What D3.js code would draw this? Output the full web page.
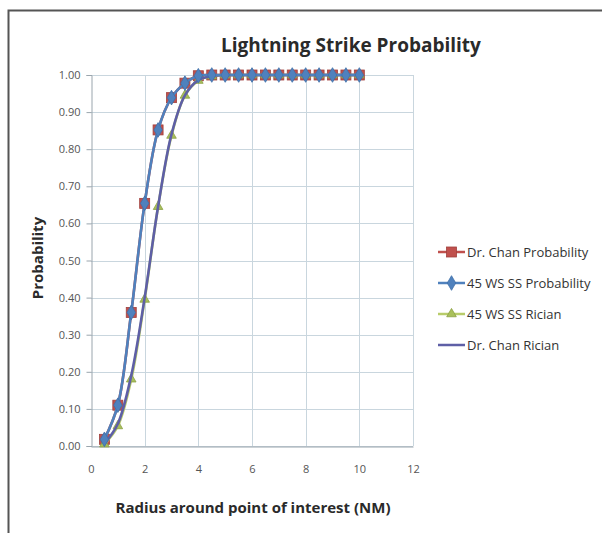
<!DOCTYPE html>
<html>
<head>
<meta charset="utf-8">
<script src="https://cdn.jsdelivr.net/npm/d3@7"></script>
<style>
  body { margin: 0; background: #fff; }
  svg { display: block; font-family: "Open Sans", sans-serif; }
</style>
</head>
<body>
<svg width="602" height="533"></svg>
<script>
// radius (NM) for every point
var radius = [0.5, 1, 1.5, 2, 2.5, 3, 3.5, 4, 4.5, 5, 5.5, 6, 6.5, 7, 7.5, 8, 8.5, 9, 9.5, 10];

var chanProb   = [0.018, 0.11, 0.36, 0.654, 0.852, 0.939, 0.978, 0.998, 1, 1, 1, 1, 1, 1, 1, 1, 1, 1, 1, 1];
var wsProb     = [0.018, 0.11, 0.36, 0.654, 0.852, 0.939, 0.978, 0.998, 1, 1, 1, 1, 1, 1, 1, 1, 1, 1, 1, 1];
var wsRician   = [0.005, 0.054, 0.18, 0.395, 0.645, 0.837, 0.945, 0.985, 0.997, 1, 1, 1, 1, 1, 1, 1, 1, 1, 1, 1];
var chanRician = [0.006, 0.06, 0.19, 0.40, 0.645, 0.84, 0.945, 0.986, 0.997, 1, 1, 1, 1, 1, 1, 1, 1, 1, 1, 1];

var xTicks = [0, 2, 4, 6, 8, 10, 12];
var yTicks = [0, 0.1, 0.2, 0.3, 0.4, 0.5, 0.6, 0.7, 0.8, 0.9, 1.0];

var series = [
  { name: "Dr. Chan Probability", values: chanProb, color: "#C0504D", marker: "square" },
  { name: "45 WS SS Probability", values: wsProb, color: "#4F81BD", marker: "diamond" },
  { name: "45 WS SS Rician", values: wsRician, color: "#B8CC6A", marker: "triangle" },
  { name: "Dr. Chan Rician", values: chanRician, color: "#5E5FA6", marker: "none" }
];

var svg = d3.select("svg");

// outer chart frame (only left and top visible in the reference)
svg.append("path")
  .attr("d", "M8.5,533 V10.5 H602")
  .attr("fill", "none")
  .attr("stroke", "#555")
  .attr("stroke-width", 2);

var x = d3.scaleLinear().domain([0, 12]).range([91, 413]);
var y = d3.scaleLinear().domain([0, 1]).range([446, 75]);

// gridlines
svg.append("g").selectAll("line").data(yTicks).enter().append("line")
  .attr("x1", x(0)).attr("x2", x(12))
  .attr("y1", function(d) { return Math.round(y(d)) + 0.5; })
  .attr("y2", function(d) { return Math.round(y(d)) + 0.5; })
  .attr("stroke", "#c9d6de");

svg.append("g").selectAll("line").data(xTicks.slice(1)).enter().append("line")
  .attr("y1", y(0)).attr("y2", y(1))
  .attr("x1", function(d) { return Math.round(x(d)) + 0.5; })
  .attr("x2", function(d) { return Math.round(x(d)) + 0.5; })
  .attr("stroke", "#c9d6de");

// axes
var yAxis = d3.axisLeft(y).tickValues(yTicks).tickFormat(d3.format(".2f")).tickSize(5).tickPadding(6);
var xAxis = d3.axisBottom(x).tickValues(xTicks).tickSize(0).tickPadding(19);

var gy = svg.append("g").attr("transform", "translate(91.5,0)").call(yAxis);
var gx = svg.append("g").attr("transform", "translate(0,446.5)").call(xAxis);

[gx, gy].forEach(function(g) {
  g.select(".domain").attr("stroke", "#9aa5ad");
  g.selectAll(".tick line").attr("stroke", "#9aa5ad");
  g.selectAll("text").attr("fill", "#555").style("font-size", "11px")
    .style("font-family", "'Open Sans', sans-serif");
});

// lines
var line = d3.line()
  .x(function(d, i) { return x(radius[i]); })
  .y(function(d) { return y(d); })
  .curve(d3.curveCatmullRom.alpha(0.5));

function drawMarker(g, s, cx, cy) {
  if (s.marker === "square") {
    g.append("rect").attr("x", cx - 5).attr("y", cy - 5).attr("width", 10).attr("height", 10)
      .attr("fill", s.color).attr("stroke", "#a0403d").attr("stroke-width", 0.8);
  } else if (s.marker === "diamond") {
    g.append("path").attr("d", d3.symbol().type(d3.symbolDiamond).size(62)())
      .attr("transform", "translate(" + cx + "," + cy + ")")
      .attr("fill", s.color).attr("stroke", "#3f6ea8").attr("stroke-width", 0.8);
  } else if (s.marker === "triangle") {
    g.append("path").attr("d", d3.symbol().type(d3.symbolTriangle).size(40)())
      .attr("transform", "translate(" + cx + "," + cy + ")")
      .attr("fill", "#a9c05a").attr("stroke", "#8aa042").attr("stroke-width", 0.8);
  }
}

// draw order: red, green, purple, blue on top
var order = [0, 2, 3, 1];
order.forEach(function(k) {
  var s = series[k];
  var g = svg.append("g");
  g.append("path")
    .attr("d", line(s.values))
    .attr("fill", "none")
    .attr("stroke", s.color)
    .attr("stroke-width", 2.6);
  s.values.forEach(function(v, i) { drawMarker(g, s, x(radius[i]), y(v)); });
});

// title
svg.append("text")
  .attr("x", 351).attr("y", 52)
  .attr("text-anchor", "middle")
  .style("font-size", "19px").style("font-weight", "bold")
  .attr("fill", "#2a2a2a")
  .text("Lightning Strike Probability");

// axis titles
svg.append("text")
  .attr("transform", "translate(43,258) rotate(-90)")
  .attr("text-anchor", "middle")
  .style("font-size", "15px").style("font-weight", "bold")
  .attr("fill", "#2a2a2a")
  .text("Probability");

svg.append("text")
  .attr("x", 253).attr("y", 513)
  .attr("text-anchor", "middle")
  .style("font-size", "15px").style("font-weight", "bold")
  .attr("fill", "#2a2a2a")
  .text("Radius around point of interest (NM)");

// legend
var legend = svg.append("g").attr("transform", "translate(438,252)");
series.forEach(function(s, i) {
  var g = legend.append("g").attr("transform", "translate(0," + (i * 31) + ")");
  g.append("line").attr("x1", 0).attr("x2", 27).attr("y1", 0).attr("y2", 0)
    .attr("stroke", s.color).attr("stroke-width", 2.5);
  drawMarker(g, s, 13.5, 0);
  g.append("text").attr("x", 29).attr("y", 4.5)
    .style("font-size", "13px").attr("fill", "#333")
    .text(s.name);
});
</script>
</body>
</html>
